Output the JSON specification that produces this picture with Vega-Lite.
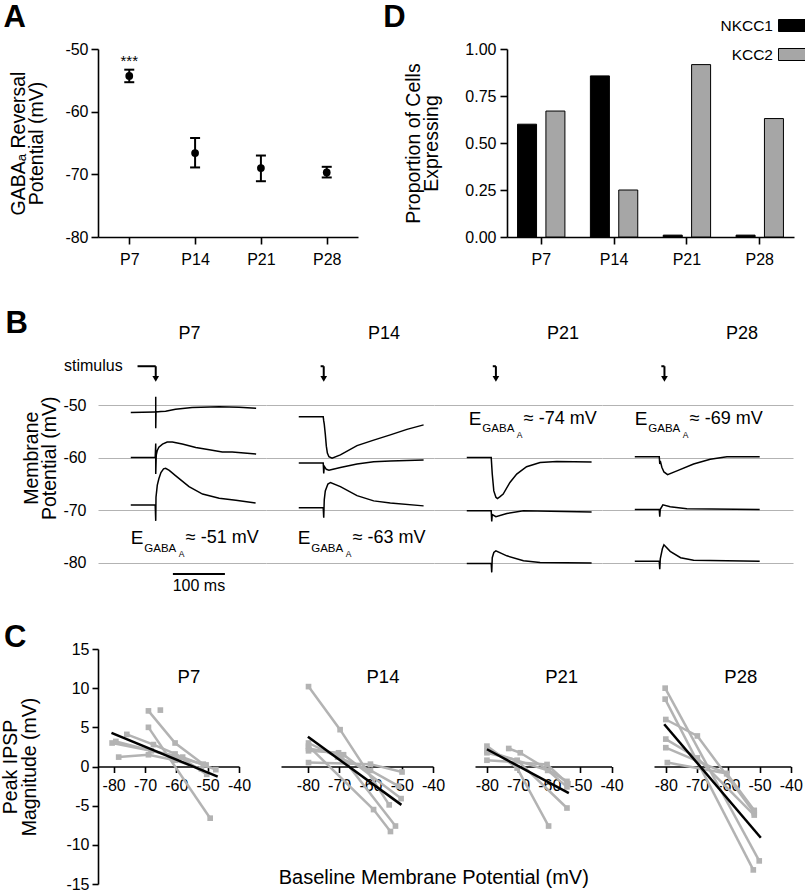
{
  "$schema": "https://vega.github.io/schema/vega-lite/v6.json",
  "background": "white",
  "padding": {"left": 0, "top": 2, "right": 0, "bottom": 0},
  "config": {
    "font": "Liberation Sans",
    "view": {"stroke": null},
    "axis": {"labelFont": "Liberation Sans", "titleFont": "Liberation Sans", "labelFontSize": 16, "titleFontSize": 19.5, "titleLineHeight": 18.5, "titleFontWeight": "normal", "labelColor": "#000", "titleColor": "#000", "domain": true, "ticks": true, "domainColor": "#000", "tickColor": "#000", "domainWidth": 1.6, "tickWidth": 1.6, "grid": false, "labelExpr": "replace(datum.label, '−', '-')"},
    "title": {"font": "Liberation Sans", "fontSize": 31, "fontWeight": "bold", "anchor": "start", "frame": "bounds", "color": "#000"},
    "text": {"font": "Liberation Sans", "color": "#000"}
  },
  "spacing": 27,
  "datasets": {
    "adata": [
      {"age": "P7", "m": -54.3, "lo": -55.3, "hi": -53.3, "sig": "***", "sy": -51.9},
      {"age": "P14", "m": -66.6, "lo": -68.9, "hi": -64.2},
      {"age": "P21", "m": -69.0, "lo": -71.1, "hi": -67.0},
      {"age": "P28", "m": -69.7, "lo": -70.5, "hi": -68.8}
    ],
    "ddata": [
      {"age": "P7", "gene": "NKCC1", "p": 0.60},
      {"age": "P7", "gene": "KCC2", "p": 0.67},
      {"age": "P14", "gene": "NKCC1", "p": 0.857},
      {"age": "P14", "gene": "KCC2", "p": 0.25},
      {"age": "P21", "gene": "NKCC1", "p": 0.01},
      {"age": "P21", "gene": "KCC2", "p": 0.917},
      {"age": "P28", "gene": "NKCC1", "p": 0.01},
      {"age": "P28", "gene": "KCC2", "p": 0.63}
    ],
    "bdat": [
      {"kind": "tr", "age": "P7", "id": "a", "i": 1, "t": -48, "v": -51.4},
      {"kind": "tr", "age": "P7", "id": "a", "i": 2, "t": -2, "v": -51.3},
      {"kind": "tr", "age": "P7", "id": "a", "i": 3, "t": 0, "v": -51.3},
      {"kind": "tr", "age": "P7", "id": "a", "i": 4, "t": 0, "v": -48.4},
      {"kind": "tr", "age": "P7", "id": "a", "i": 5, "t": 0, "v": -54.4},
      {"kind": "tr", "age": "P7", "id": "a", "i": 6, "t": 0.5, "v": -51.3},
      {"kind": "tr", "age": "P7", "id": "a", "i": 7, "t": 10, "v": -51.2},
      {"kind": "tr", "age": "P7", "id": "a", "i": 8, "t": 19, "v": -51.15},
      {"kind": "tr", "age": "P7", "id": "a", "i": 9, "t": 38, "v": -50.8},
      {"kind": "tr", "age": "P7", "id": "a", "i": 10, "t": 70, "v": -50.45},
      {"kind": "tr", "age": "P7", "id": "a", "i": 11, "t": 122, "v": -50.3},
      {"kind": "tr", "age": "P7", "id": "a", "i": 12, "t": 160, "v": -50.4},
      {"kind": "tr", "age": "P7", "id": "a", "i": 13, "t": 193, "v": -50.6},
      {"kind": "tr", "age": "P7", "id": "b", "i": 1, "t": -48, "v": -59.95},
      {"kind": "tr", "age": "P7", "id": "b", "i": 2, "t": -1, "v": -59.95},
      {"kind": "tr", "age": "P7", "id": "b", "i": 3, "t": 0, "v": -57.3},
      {"kind": "tr", "age": "P7", "id": "b", "i": 4, "t": 0, "v": -63.1},
      {"kind": "tr", "age": "P7", "id": "b", "i": 5, "t": 1, "v": -59.5},
      {"kind": "tr", "age": "P7", "id": "b", "i": 6, "t": 3, "v": -58.6},
      {"kind": "tr", "age": "P7", "id": "b", "i": 7, "t": 6, "v": -58.0},
      {"kind": "tr", "age": "P7", "id": "b", "i": 8, "t": 13, "v": -57.4},
      {"kind": "tr", "age": "P7", "id": "b", "i": 9, "t": 22, "v": -57.0},
      {"kind": "tr", "age": "P7", "id": "b", "i": 10, "t": 32, "v": -57.0},
      {"kind": "tr", "age": "P7", "id": "b", "i": 11, "t": 51, "v": -57.4},
      {"kind": "tr", "age": "P7", "id": "b", "i": 12, "t": 77, "v": -58.05},
      {"kind": "tr", "age": "P7", "id": "b", "i": 13, "t": 103, "v": -58.5},
      {"kind": "tr", "age": "P7", "id": "b", "i": 14, "t": 128, "v": -58.9},
      {"kind": "tr", "age": "P7", "id": "b", "i": 15, "t": 147, "v": -58.9},
      {"kind": "tr", "age": "P7", "id": "b", "i": 16, "t": 193, "v": -59.3},
      {"kind": "tr", "age": "P7", "id": "c", "i": 1, "t": -48, "v": -69.0},
      {"kind": "tr", "age": "P7", "id": "c", "i": 2, "t": -1, "v": -69.0},
      {"kind": "tr", "age": "P7", "id": "c", "i": 3, "t": 0, "v": -72.0},
      {"kind": "tr", "age": "P7", "id": "c", "i": 4, "t": 0.5, "v": -67.5},
      {"kind": "tr", "age": "P7", "id": "c", "i": 5, "t": 3, "v": -65.2},
      {"kind": "tr", "age": "P7", "id": "c", "i": 6, "t": 6, "v": -64.0},
      {"kind": "tr", "age": "P7", "id": "c", "i": 7, "t": 10, "v": -62.8},
      {"kind": "tr", "age": "P7", "id": "c", "i": 8, "t": 15, "v": -62.1},
      {"kind": "tr", "age": "P7", "id": "c", "i": 9, "t": 19, "v": -62.0},
      {"kind": "tr", "age": "P7", "id": "c", "i": 10, "t": 26, "v": -62.4},
      {"kind": "tr", "age": "P7", "id": "c", "i": 11, "t": 38, "v": -63.4},
      {"kind": "tr", "age": "P7", "id": "c", "i": 12, "t": 64, "v": -65.5},
      {"kind": "tr", "age": "P7", "id": "c", "i": 13, "t": 90, "v": -66.9},
      {"kind": "tr", "age": "P7", "id": "c", "i": 14, "t": 122, "v": -67.7},
      {"kind": "tr", "age": "P7", "id": "c", "i": 15, "t": 154, "v": -68.1},
      {"kind": "tr", "age": "P7", "id": "c", "i": 16, "t": 192, "v": -68.6},
      {"kind": "tr", "age": "P14", "id": "a", "i": 1, "t": -48, "v": -52.2},
      {"kind": "tr", "age": "P14", "id": "a", "i": 2, "t": -1, "v": -52.2},
      {"kind": "tr", "age": "P14", "id": "a", "i": 3, "t": 0, "v": -53.0},
      {"kind": "tr", "age": "P14", "id": "a", "i": 4, "t": 1, "v": -53.6},
      {"kind": "tr", "age": "P14", "id": "a", "i": 5, "t": 3, "v": -55.5},
      {"kind": "tr", "age": "P14", "id": "a", "i": 6, "t": 5, "v": -57.8},
      {"kind": "tr", "age": "P14", "id": "a", "i": 7, "t": 7, "v": -59.1},
      {"kind": "tr", "age": "P14", "id": "a", "i": 8, "t": 10, "v": -59.8},
      {"kind": "tr", "age": "P14", "id": "a", "i": 9, "t": 16, "v": -60.1},
      {"kind": "tr", "age": "P14", "id": "a", "i": 10, "t": 32, "v": -59.45},
      {"kind": "tr", "age": "P14", "id": "a", "i": 11, "t": 64, "v": -57.7},
      {"kind": "tr", "age": "P14", "id": "a", "i": 12, "t": 96, "v": -56.65},
      {"kind": "tr", "age": "P14", "id": "a", "i": 13, "t": 128, "v": -55.65},
      {"kind": "tr", "age": "P14", "id": "a", "i": 14, "t": 160, "v": -54.6},
      {"kind": "tr", "age": "P14", "id": "a", "i": 15, "t": 192, "v": -53.75},
      {"kind": "tr", "age": "P14", "id": "b", "i": 1, "t": -48, "v": -61.0},
      {"kind": "tr", "age": "P14", "id": "b", "i": 2, "t": -1, "v": -61.0},
      {"kind": "tr", "age": "P14", "id": "b", "i": 3, "t": 0, "v": -63.0},
      {"kind": "tr", "age": "P14", "id": "b", "i": 4, "t": 1, "v": -61.6},
      {"kind": "tr", "age": "P14", "id": "b", "i": 5, "t": 5, "v": -62.2},
      {"kind": "tr", "age": "P14", "id": "b", "i": 6, "t": 10, "v": -62.35},
      {"kind": "tr", "age": "P14", "id": "b", "i": 7, "t": 32, "v": -61.85},
      {"kind": "tr", "age": "P14", "id": "b", "i": 8, "t": 64, "v": -61.2},
      {"kind": "tr", "age": "P14", "id": "b", "i": 9, "t": 96, "v": -60.75},
      {"kind": "tr", "age": "P14", "id": "b", "i": 10, "t": 128, "v": -60.6},
      {"kind": "tr", "age": "P14", "id": "b", "i": 11, "t": 192, "v": -60.45},
      {"kind": "tr", "age": "P14", "id": "c", "i": 1, "t": -48, "v": -69.5},
      {"kind": "tr", "age": "P14", "id": "c", "i": 2, "t": -1, "v": -69.5},
      {"kind": "tr", "age": "P14", "id": "c", "i": 3, "t": 0, "v": -71.4},
      {"kind": "tr", "age": "P14", "id": "c", "i": 4, "t": 1, "v": -68.0},
      {"kind": "tr", "age": "P14", "id": "c", "i": 5, "t": 3, "v": -66.3},
      {"kind": "tr", "age": "P14", "id": "c", "i": 6, "t": 8, "v": -65.0},
      {"kind": "tr", "age": "P14", "id": "c", "i": 7, "t": 13, "v": -64.7},
      {"kind": "tr", "age": "P14", "id": "c", "i": 8, "t": 32, "v": -65.5},
      {"kind": "tr", "age": "P14", "id": "c", "i": 9, "t": 64, "v": -67.2},
      {"kind": "tr", "age": "P14", "id": "c", "i": 10, "t": 96, "v": -68.2},
      {"kind": "tr", "age": "P14", "id": "c", "i": 11, "t": 128, "v": -68.6},
      {"kind": "tr", "age": "P14", "id": "c", "i": 12, "t": 192, "v": -69.15},
      {"kind": "tr", "age": "P21", "id": "a", "i": 1, "t": -48, "v": -59.95},
      {"kind": "tr", "age": "P21", "id": "a", "i": 2, "t": -1, "v": -59.95},
      {"kind": "tr", "age": "P21", "id": "a", "i": 3, "t": 1, "v": -63.1},
      {"kind": "tr", "age": "P21", "id": "a", "i": 4, "t": 4, "v": -66.3},
      {"kind": "tr", "age": "P21", "id": "a", "i": 5, "t": 8, "v": -67.5},
      {"kind": "tr", "age": "P21", "id": "a", "i": 6, "t": 11, "v": -67.75},
      {"kind": "tr", "age": "P21", "id": "a", "i": 7, "t": 16, "v": -67.4},
      {"kind": "tr", "age": "P21", "id": "a", "i": 8, "t": 22, "v": -66.9},
      {"kind": "tr", "age": "P21", "id": "a", "i": 9, "t": 35, "v": -64.7},
      {"kind": "tr", "age": "P21", "id": "a", "i": 10, "t": 48, "v": -63.1},
      {"kind": "tr", "age": "P21", "id": "a", "i": 11, "t": 67, "v": -61.7},
      {"kind": "tr", "age": "P21", "id": "a", "i": 12, "t": 93, "v": -60.9},
      {"kind": "tr", "age": "P21", "id": "a", "i": 13, "t": 125, "v": -60.7},
      {"kind": "tr", "age": "P21", "id": "a", "i": 14, "t": 192, "v": -60.8},
      {"kind": "tr", "age": "P21", "id": "b", "i": 1, "t": -48, "v": -70.1},
      {"kind": "tr", "age": "P21", "id": "b", "i": 2, "t": -1, "v": -70.1},
      {"kind": "tr", "age": "P21", "id": "b", "i": 3, "t": 0, "v": -72.1},
      {"kind": "tr", "age": "P21", "id": "b", "i": 4, "t": 1, "v": -70.8},
      {"kind": "tr", "age": "P21", "id": "b", "i": 5, "t": 8, "v": -71.2},
      {"kind": "tr", "age": "P21", "id": "b", "i": 6, "t": 29, "v": -70.6},
      {"kind": "tr", "age": "P21", "id": "b", "i": 7, "t": 61, "v": -70.1},
      {"kind": "tr", "age": "P21", "id": "b", "i": 8, "t": 192, "v": -70.3},
      {"kind": "tr", "age": "P21", "id": "c", "i": 1, "t": -48, "v": -80.1},
      {"kind": "tr", "age": "P21", "id": "c", "i": 2, "t": -1, "v": -80.1},
      {"kind": "tr", "age": "P21", "id": "c", "i": 3, "t": 0, "v": -81.8},
      {"kind": "tr", "age": "P21", "id": "c", "i": 4, "t": 1, "v": -79.0},
      {"kind": "tr", "age": "P21", "id": "c", "i": 5, "t": 4, "v": -78.0},
      {"kind": "tr", "age": "P21", "id": "c", "i": 6, "t": 8, "v": -77.7},
      {"kind": "tr", "age": "P21", "id": "c", "i": 7, "t": 29, "v": -78.65},
      {"kind": "tr", "age": "P21", "id": "c", "i": 8, "t": 61, "v": -79.6},
      {"kind": "tr", "age": "P21", "id": "c", "i": 9, "t": 93, "v": -79.9},
      {"kind": "tr", "age": "P21", "id": "c", "i": 10, "t": 192, "v": -80.0},
      {"kind": "tr", "age": "P28", "id": "a", "i": 1, "t": -48, "v": -59.8},
      {"kind": "tr", "age": "P28", "id": "a", "i": 2, "t": -1, "v": -59.8},
      {"kind": "tr", "age": "P28", "id": "a", "i": 3, "t": 0, "v": -61.2},
      {"kind": "tr", "age": "P28", "id": "a", "i": 4, "t": 1, "v": -60.6},
      {"kind": "tr", "age": "P28", "id": "a", "i": 5, "t": 4, "v": -61.8},
      {"kind": "tr", "age": "P28", "id": "a", "i": 6, "t": 8, "v": -62.7},
      {"kind": "tr", "age": "P28", "id": "a", "i": 7, "t": 15, "v": -63.2},
      {"kind": "tr", "age": "P28", "id": "a", "i": 8, "t": 33, "v": -62.5},
      {"kind": "tr", "age": "P28", "id": "a", "i": 9, "t": 65, "v": -61.2},
      {"kind": "tr", "age": "P28", "id": "a", "i": 10, "t": 97, "v": -60.3},
      {"kind": "tr", "age": "P28", "id": "a", "i": 11, "t": 129, "v": -59.8},
      {"kind": "tr", "age": "P28", "id": "a", "i": 12, "t": 192, "v": -59.8},
      {"kind": "tr", "age": "P28", "id": "b", "i": 1, "t": -48, "v": -69.85},
      {"kind": "tr", "age": "P28", "id": "b", "i": 2, "t": -1, "v": -69.85},
      {"kind": "tr", "age": "P28", "id": "b", "i": 3, "t": 0, "v": -71.2},
      {"kind": "tr", "age": "P28", "id": "b", "i": 4, "t": 1, "v": -69.8},
      {"kind": "tr", "age": "P28", "id": "b", "i": 5, "t": 6, "v": -68.95},
      {"kind": "tr", "age": "P28", "id": "b", "i": 6, "t": 20, "v": -69.3},
      {"kind": "tr", "age": "P28", "id": "b", "i": 7, "t": 52, "v": -69.7},
      {"kind": "tr", "age": "P28", "id": "b", "i": 8, "t": 192, "v": -69.85},
      {"kind": "tr", "age": "P28", "id": "c", "i": 1, "t": -48, "v": -79.7},
      {"kind": "tr", "age": "P28", "id": "c", "i": 2, "t": -1, "v": -79.7},
      {"kind": "tr", "age": "P28", "id": "c", "i": 3, "t": 0, "v": -81.2},
      {"kind": "tr", "age": "P28", "id": "c", "i": 4, "t": 1, "v": -79.2},
      {"kind": "tr", "age": "P28", "id": "c", "i": 5, "t": 5, "v": -77.3},
      {"kind": "tr", "age": "P28", "id": "c", "i": 6, "t": 8, "v": -76.55},
      {"kind": "tr", "age": "P28", "id": "c", "i": 7, "t": 20, "v": -77.8},
      {"kind": "tr", "age": "P28", "id": "c", "i": 8, "t": 40, "v": -79.0},
      {"kind": "tr", "age": "P28", "id": "c", "i": 9, "t": 65, "v": -79.5},
      {"kind": "tr", "age": "P28", "id": "c", "i": 10, "t": 192, "v": -79.7},
      {"kind": "st", "age": "P7", "t": -35, "t2": 0, "v": -42.6, "v2": -42.6},
      {"kind": "st", "age": "P7", "t": 0, "t2": 0, "v": -42.6, "v2": -44.5},
      {"kind": "st", "age": "P14", "t": -6, "t2": 0, "v": -42.6, "v2": -42.6},
      {"kind": "st", "age": "P14", "t": 0, "t2": 0, "v": -42.6, "v2": -44.5},
      {"kind": "st", "age": "P21", "t": 2, "t2": 8, "v": -42.6, "v2": -42.6},
      {"kind": "st", "age": "P21", "t": 8, "t2": 8, "v": -42.6, "v2": -44.5},
      {"kind": "st", "age": "P28", "t": 3, "t2": 9, "v": -42.6, "v2": -42.6},
      {"kind": "st", "age": "P28", "t": 9, "t2": 9, "v": -42.6, "v2": -44.5},
      {"kind": "hd", "age": "P7", "t": 0, "v": -45.0},
      {"kind": "hd", "age": "P14", "t": 0, "v": -45.0},
      {"kind": "hd", "age": "P21", "t": 8, "v": -45.0},
      {"kind": "hd", "age": "P28", "t": 9, "v": -45.0},
      {"kind": "lb", "age": "P7", "t": 65, "v": -36.4, "txt": "P7"},
      {"kind": "lb", "age": "P14", "t": 116, "v": -36.4, "txt": "P14"},
      {"kind": "lb", "age": "P21", "t": 137, "v": -36.4, "txt": "P21"},
      {"kind": "lb", "age": "P28", "t": 158, "v": -36.4, "txt": "P28"},
      {"kind": "sx", "age": "P7", "t": -63.5, "v": -42.5, "txt": "stimulus"},
      {"kind": "eg", "age": "P7", "t": -48, "v": -75.3, "txt": "≈ -51 mV"},
      {"kind": "eg", "age": "P14", "t": -50, "v": -75.3, "txt": "≈ -63 mV"},
      {"kind": "eg", "age": "P21", "t": -44, "v": -52.6, "txt": "≈ -74 mV"},
      {"kind": "eg", "age": "P28", "t": -48, "v": -52.6, "txt": "≈ -69 mV"},
      {"kind": "sb", "age": "P7", "t": 33, "t2": 133, "v": -82.1, "v2": -82.1},
      {"kind": "sbt", "age": "P7", "t": 83, "v": -84.45, "txt": "100 ms"}
    ],
    "cdat": [
      {"kind": "g", "age": "P7", "id": "g1", "x": -68.9, "y": 7.1},
      {"kind": "g", "age": "P7", "id": "g1", "x": -60.4, "y": 3.0},
      {"kind": "g", "age": "P7", "id": "g1", "x": -51.4, "y": 0.3},
      {"kind": "g", "age": "P7", "id": "g2", "x": -65.1, "y": 7.2},
      {"kind": "g", "age": "P7", "id": "g3", "x": -68.9, "y": 5.0},
      {"kind": "g", "age": "P7", "id": "g3", "x": -49.2, "y": -6.6},
      {"kind": "g", "age": "P7", "id": "g4", "x": -75.8, "y": 4.1},
      {"kind": "g", "age": "P7", "id": "g4", "x": -67.3, "y": 2.8},
      {"kind": "g", "age": "P7", "id": "g4", "x": -60.4, "y": 1.6},
      {"kind": "g", "age": "P7", "id": "g4", "x": -50.3, "y": -1.0},
      {"kind": "g", "age": "P7", "id": "g5", "x": -80.5, "y": 3.0},
      {"kind": "g", "age": "P7", "id": "g5", "x": -68.0, "y": 2.0},
      {"kind": "g", "age": "P7", "id": "g5", "x": -58.0, "y": 1.2},
      {"kind": "g", "age": "P7", "id": "g5", "x": -47.4, "y": -0.4},
      {"kind": "g", "age": "P7", "id": "g6", "x": -78.4, "y": 1.2},
      {"kind": "g", "age": "P7", "id": "g6", "x": -68.9, "y": 1.5},
      {"kind": "g", "age": "P7", "id": "g6", "x": -60.4, "y": 0.8},
      {"kind": "g", "age": "P7", "id": "g6", "x": -52.0, "y": -0.3},
      {"kind": "g", "age": "P7", "id": "g7", "x": -79.3, "y": 3.2},
      {"kind": "g", "age": "P7", "id": "g7", "x": -60.0, "y": 1.2},
      {"kind": "g", "age": "P7", "id": "g7", "x": -50.5, "y": 0.2},
      {"kind": "f", "age": "P7", "x": -80.7, "y": 4.3},
      {"kind": "f", "age": "P7", "x": -46.8, "y": -1.3},
      {"kind": "t", "age": "P7", "x": -56, "y": 11.4, "txt": "P7"},
      {"kind": "g", "age": "P14", "id": "h1", "x": -79.8, "y": 10.2},
      {"kind": "g", "age": "P14", "id": "h1", "x": -69.7, "y": 4.7},
      {"kind": "g", "age": "P14", "id": "h1", "x": -54.0, "y": -4.9},
      {"kind": "g", "age": "P14", "id": "h2", "x": -79.8, "y": 2.6},
      {"kind": "g", "age": "P14", "id": "h2", "x": -59.0, "y": -5.5},
      {"kind": "g", "age": "P14", "id": "h2", "x": -53.6, "y": -8.3},
      {"kind": "g", "age": "P14", "id": "h3", "x": -79.8, "y": 2.0},
      {"kind": "g", "age": "P14", "id": "h3", "x": -70.2, "y": 1.75},
      {"kind": "g", "age": "P14", "id": "h3", "x": -52.0, "y": -7.6},
      {"kind": "g", "age": "P14", "id": "h4", "x": -79.8, "y": 0.5},
      {"kind": "g", "age": "P14", "id": "h4", "x": -60.0, "y": 0.3},
      {"kind": "g", "age": "P14", "id": "h4", "x": -49.9, "y": -0.7},
      {"kind": "g", "age": "P14", "id": "h5", "x": -79.8, "y": 2.3},
      {"kind": "g", "age": "P14", "id": "h5", "x": -68.6, "y": 1.5},
      {"kind": "g", "age": "P14", "id": "h5", "x": -50.2, "y": -4.1},
      {"kind": "g", "age": "P14", "id": "h6", "x": -79.8, "y": 3.0},
      {"kind": "g", "age": "P14", "id": "h6", "x": -70.5, "y": 1.2},
      {"kind": "g", "age": "P14", "id": "h6", "x": -60.0, "y": -0.5},
      {"kind": "g", "age": "P14", "id": "h6", "x": -51.0, "y": -2.5},
      {"kind": "f", "age": "P14", "x": -80.0, "y": 3.8},
      {"kind": "f", "age": "P14", "x": -50.1, "y": -4.9},
      {"kind": "t", "age": "P14", "x": -56, "y": 11.4, "txt": "P14"},
      {"kind": "g", "age": "P21", "id": "k1", "x": -80.0, "y": 2.6},
      {"kind": "g", "age": "P21", "id": "k1", "x": -70.3, "y": -0.2},
      {"kind": "g", "age": "P21", "id": "k1", "x": -60.2, "y": -7.6},
      {"kind": "g", "age": "P21", "id": "k2", "x": -80.0, "y": 1.75},
      {"kind": "g", "age": "P21", "id": "k2", "x": -70.3, "y": 0.8},
      {"kind": "g", "age": "P21", "id": "k2", "x": -54.3, "y": -5.3},
      {"kind": "g", "age": "P21", "id": "k3", "x": -73.0, "y": 2.3},
      {"kind": "g", "age": "P21", "id": "k3", "x": -69.3, "y": 1.75},
      {"kind": "g", "age": "P21", "id": "k3", "x": -54.3, "y": -1.9},
      {"kind": "g", "age": "P21", "id": "k4", "x": -80.0, "y": 0.8},
      {"kind": "g", "age": "P21", "id": "k4", "x": -60.7, "y": 0.26},
      {"kind": "g", "age": "P21", "id": "k4", "x": -54.0, "y": -2.2},
      {"kind": "g", "age": "P21", "id": "k5", "x": -80.0, "y": 2.0},
      {"kind": "g", "age": "P21", "id": "k5", "x": -60.5, "y": -0.5},
      {"kind": "g", "age": "P21", "id": "k5", "x": -54.3, "y": -2.6},
      {"kind": "f", "age": "P21", "x": -80.0, "y": 2.2},
      {"kind": "f", "age": "P21", "x": -53.7, "y": -3.4},
      {"kind": "t", "age": "P21", "x": -56, "y": 11.4, "txt": "P21"},
      {"kind": "g", "age": "P28", "id": "m1", "x": -80.2, "y": 10.0},
      {"kind": "g", "age": "P28", "id": "m1", "x": -50.1, "y": -12.05},
      {"kind": "g", "age": "P28", "id": "m2", "x": -80.2, "y": 8.6},
      {"kind": "g", "age": "P28", "id": "m2", "x": -52.0, "y": -13.2},
      {"kind": "g", "age": "P28", "id": "m3", "x": -80.0, "y": 6.0},
      {"kind": "g", "age": "P28", "id": "m3", "x": -69.9, "y": 3.9},
      {"kind": "g", "age": "P28", "id": "m3", "x": -51.7, "y": -5.9},
      {"kind": "g", "age": "P28", "id": "m4", "x": -80.0, "y": 3.5},
      {"kind": "g", "age": "P28", "id": "m4", "x": -69.9, "y": 1.1},
      {"kind": "g", "age": "P28", "id": "m4", "x": -51.7, "y": -6.2},
      {"kind": "g", "age": "P28", "id": "m5", "x": -80.0, "y": 2.4},
      {"kind": "g", "age": "P28", "id": "m5", "x": -60.5, "y": -0.9},
      {"kind": "g", "age": "P28", "id": "m5", "x": -51.7, "y": -5.6},
      {"kind": "g", "age": "P28", "id": "m6", "x": -79.5, "y": 0.5},
      {"kind": "g", "age": "P28", "id": "m6", "x": -60.5, "y": -0.9},
      {"kind": "f", "age": "P28", "x": -80.5, "y": 5.4},
      {"kind": "f", "age": "P28", "x": -49.6, "y": -9.1},
      {"kind": "t", "age": "P28", "x": -56, "y": 11.4, "txt": "P28"}
    ]
  },
  "vconcat": [
    {
      "hconcat": [
        {
          "width": 260, "height": 188,
          "title": {"text": "A", "dx": -5, "dy": -3},
          "data": {"name": "adata"},
          "encoding": {
            "x": {"field": "age", "type": "nominal", "sort": ["P7", "P14", "P21", "P28"], "scale": {"type": "point", "padding": 0.475}, "axis": {"title": " ", "titleFontSize": 14, "titlePadding": 0, "labelAngle": 0, "tickSize": 7, "labelPadding": 7, "domain": true, "ticks": true}}
          },
          "layer": [
            {"mark": {"type": "rule", "strokeWidth": 2, "color": "black"},
             "encoding": {"y": {"field": "lo", "type": "quantitative", "scale": {"domain": [-80, -50], "nice": false, "zero": false}, "axis": {"values": [-50, -60, -70, -80], "title": ["GABAₐ Reversal", "Potential (mV)"], "tickSize": 7, "labelPadding": 3, "titlePadding": 18, "domain": true, "ticks": true}}, "y2": {"field": "hi"}}},
            {"mark": {"type": "tick", "thickness": 2, "size": 10, "color": "black", "opacity": 1},
             "encoding": {"y": {"field": "lo", "type": "quantitative", "axis": {"values": [-50, -60, -70, -80], "title": ["GABAₐ Reversal", "Potential (mV)"], "tickSize": 7, "labelPadding": 3, "titlePadding": 18, "domain": true, "ticks": true}}}},
            {"mark": {"type": "tick", "thickness": 2, "size": 10, "color": "black", "opacity": 1},
             "encoding": {"y": {"field": "hi", "type": "quantitative", "axis": {"values": [-50, -60, -70, -80], "title": ["GABAₐ Reversal", "Potential (mV)"], "tickSize": 7, "labelPadding": 3, "titlePadding": 18, "domain": true, "ticks": true}}}},
            {"mark": {"type": "point", "filled": true, "size": 60, "color": "black", "opacity": 1},
             "encoding": {"y": {"field": "m", "type": "quantitative", "axis": {"values": [-50, -60, -70, -80], "title": ["GABAₐ Reversal", "Potential (mV)"], "tickSize": 7, "labelPadding": 3, "titlePadding": 18, "domain": true, "ticks": true}}}},
            {"transform": [{"filter": "isValid(datum.sig)"}],
             "mark": {"type": "text", "fontSize": 15, "baseline": "middle"},
             "encoding": {"y": {"field": "sy", "type": "quantitative", "axis": {"values": [-50, -60, -70, -80], "title": ["GABAₐ Reversal", "Potential (mV)"], "tickSize": 7, "labelPadding": 3, "titlePadding": 18, "domain": true, "ticks": true}}, "text": {"field": "sig"}}}
          ]
        },
        {
          "width": 287, "height": 188,
          "title": {"text": "D", "dx": -20, "dy": -3},
          "data": {"name": "ddata"},
          "mark": {"type": "bar", "stroke": "black", "strokeWidth": 1},
          "encoding": {
            "x": {"field": "age", "type": "nominal", "sort": ["P7", "P14", "P21", "P28"], "scale": {"paddingInner": 0.35, "paddingOuter": 0.145}, "axis": {"title": null, "labelAngle": 0, "tickSize": 7, "labelPadding": 7, "domain": true, "ticks": true}},
            "xOffset": {"field": "gene", "sort": ["NKCC1", "KCC2"], "scale": {"paddingInner": 0.33, "paddingOuter": 0}},
            "y": {"field": "p", "type": "quantitative", "scale": {"domain": [0, 1], "nice": false}, "axis": {"values": [0, 0.25, 0.5, 0.75, 1], "format": ".2f", "title": ["Proportion of Cells", "Expressing"], "tickSize": 7, "labelPadding": 4, "titlePadding": 23, "domain": true, "ticks": true}},
            "color": {"field": "gene", "type": "nominal", "sort": ["NKCC1", "KCC2"], "scale": {"domain": ["NKCC1", "KCC2"], "range": ["#000000", "#a6a6a6"]},
              "legend": {"orient": "none", "legendX": 680, "legendY": -39, "title": null, "symbolType": "M-1,-0.4H1V0.4H-1Z", "symbolSize": 900, "symbolStrokeColor": "black", "symbolStrokeWidth": 1, "symbolOpacity": 1, "labelAlign": "right", "labelOffset": -36, "labelFontSize": 15.5, "labelColor": "#000", "rowPadding": 5, "padding": 0}}
          }
        }
      ],
      "spacing": 149,
      "bounds": "flush"
    },
    {
      "hconcat": [
        {
          "width": 168, "height": 273.5,
          "title": {"text": "B", "dx": -16, "dy": 23},
          "data": {"name": "bdat"},
          "transform": [{"filter": "datum.age==='P7'"}],
          "encoding": {
            "x": {"field": "t", "type": "quantitative", "scale": {"domain": [-111, 212], "nice": false, "zero": false}, "axis": null},
            "y": {"field": "v", "type": "quantitative", "scale": {"domain": [-86, -34], "nice": false, "zero": false}, "axis": {"values": [-50, -60, -70, -80], "grid": true, "gridColor": "#b3b3b3", "gridWidth": 1, "domain": false, "ticks": false, "labelPadding": 12, "title": ["Membrane", "Potential (mV)"], "titlePadding": 3}}
          },
          "layer": [
            {"transform": [{"filter": "datum.kind==='tr'"}], "mark": {"type": "line", "color": "black", "strokeWidth": 1.5}, "encoding": {"detail": {"field": "id"}, "order": {"field": "i"}}},
            {"transform": [{"filter": "datum.kind==='st' || datum.kind==='sb'"}], "mark": {"type": "rule", "color": "black", "strokeWidth": 2}, "encoding": {"x2": {"field": "t2"}, "y2": {"field": "v2"}}},
            {"transform": [{"filter": "datum.kind==='hd'"}], "mark": {"type": "point", "shape": "triangle-down", "filled": true, "color": "black", "size": 45, "opacity": 1}},
            {"transform": [{"filter": "datum.kind==='lb'"}], "mark": {"type": "text", "fontSize": 18, "align": "center", "baseline": "middle"}, "encoding": {"text": {"field": "txt"}}},
            {"transform": [{"filter": "datum.kind==='sx'"}], "mark": {"type": "text", "fontSize": 16, "align": "right", "baseline": "middle"}, "encoding": {"text": {"field": "txt"}}},
            {"transform": [{"filter": "datum.kind==='sbt'"}], "mark": {"type": "text", "fontSize": 16, "align": "center", "baseline": "middle"}, "encoding": {"text": {"field": "txt"}}},
            {"transform": [{"filter": "datum.kind==='eg'"}], "mark": {"type": "text", "fontSize": 19, "align": "left", "baseline": "middle", "text": "E"}},
            {"transform": [{"filter": "datum.kind==='eg'"}], "mark": {"type": "text", "fontSize": 11.5, "align": "left", "baseline": "middle", "dx": 13.5, "dy": 10.5, "text": "GABA"}},
            {"transform": [{"filter": "datum.kind==='eg'"}], "mark": {"type": "text", "fontSize": 8.5, "align": "left", "baseline": "middle", "dx": 48, "dy": 16, "text": "A"}},
            {"transform": [{"filter": "datum.kind==='eg'"}], "mark": {"type": "text", "fontSize": 18, "align": "left", "baseline": "middle", "dx": 55}, "encoding": {"text": {"field": "txt"}}}
          ]
        },
        {
          "width": 168, "height": 273.5,
          "data": {"name": "bdat"},
          "transform": [{"filter": "datum.age==='P14'"}],
          "encoding": {
            "x": {"field": "t", "type": "quantitative", "scale": {"domain": [-111, 212], "nice": false, "zero": false}, "axis": null},
            "y": {"field": "v", "type": "quantitative", "scale": {"domain": [-86, -34], "nice": false, "zero": false}, "axis": {"values": [-50, -60, -70, -80], "grid": true, "gridColor": "#b3b3b3", "gridWidth": 1, "domain": false, "ticks": false, "labels": false, "title": null}}
          },
          "layer": [
            {"transform": [{"filter": "datum.kind==='tr'"}], "mark": {"type": "line", "color": "black", "strokeWidth": 1.5}, "encoding": {"detail": {"field": "id"}, "order": {"field": "i"}}},
            {"transform": [{"filter": "datum.kind==='st'"}], "mark": {"type": "rule", "color": "black", "strokeWidth": 2}, "encoding": {"x2": {"field": "t2"}, "y2": {"field": "v2"}}},
            {"transform": [{"filter": "datum.kind==='hd'"}], "mark": {"type": "point", "shape": "triangle-down", "filled": true, "color": "black", "size": 45, "opacity": 1}},
            {"transform": [{"filter": "datum.kind==='lb'"}], "mark": {"type": "text", "fontSize": 18, "align": "center", "baseline": "middle"}, "encoding": {"text": {"field": "txt"}}},
            {"transform": [{"filter": "datum.kind==='eg'"}], "mark": {"type": "text", "fontSize": 19, "align": "left", "baseline": "middle", "text": "E"}},
            {"transform": [{"filter": "datum.kind==='eg'"}], "mark": {"type": "text", "fontSize": 11.5, "align": "left", "baseline": "middle", "dx": 13.5, "dy": 10.5, "text": "GABA"}},
            {"transform": [{"filter": "datum.kind==='eg'"}], "mark": {"type": "text", "fontSize": 8.5, "align": "left", "baseline": "middle", "dx": 48, "dy": 16, "text": "A"}},
            {"transform": [{"filter": "datum.kind==='eg'"}], "mark": {"type": "text", "fontSize": 18, "align": "left", "baseline": "middle", "dx": 55}, "encoding": {"text": {"field": "txt"}}}
          ]
        },
        {
          "width": 168, "height": 273.5,
          "data": {"name": "bdat"},
          "transform": [{"filter": "datum.age==='P21'"}],
          "encoding": {
            "x": {"field": "t", "type": "quantitative", "scale": {"domain": [-111, 212], "nice": false, "zero": false}, "axis": null},
            "y": {"field": "v", "type": "quantitative", "scale": {"domain": [-86, -34], "nice": false, "zero": false}, "axis": {"values": [-50, -60, -70, -80], "grid": true, "gridColor": "#b3b3b3", "gridWidth": 1, "domain": false, "ticks": false, "labels": false, "title": null}}
          },
          "layer": [
            {"transform": [{"filter": "datum.kind==='tr'"}], "mark": {"type": "line", "color": "black", "strokeWidth": 1.5}, "encoding": {"detail": {"field": "id"}, "order": {"field": "i"}}},
            {"transform": [{"filter": "datum.kind==='st'"}], "mark": {"type": "rule", "color": "black", "strokeWidth": 2}, "encoding": {"x2": {"field": "t2"}, "y2": {"field": "v2"}}},
            {"transform": [{"filter": "datum.kind==='hd'"}], "mark": {"type": "point", "shape": "triangle-down", "filled": true, "color": "black", "size": 45, "opacity": 1}},
            {"transform": [{"filter": "datum.kind==='lb'"}], "mark": {"type": "text", "fontSize": 18, "align": "center", "baseline": "middle"}, "encoding": {"text": {"field": "txt"}}},
            {"transform": [{"filter": "datum.kind==='eg'"}], "mark": {"type": "text", "fontSize": 19, "align": "left", "baseline": "middle", "text": "E"}},
            {"transform": [{"filter": "datum.kind==='eg'"}], "mark": {"type": "text", "fontSize": 11.5, "align": "left", "baseline": "middle", "dx": 13.5, "dy": 10.5, "text": "GABA"}},
            {"transform": [{"filter": "datum.kind==='eg'"}], "mark": {"type": "text", "fontSize": 8.5, "align": "left", "baseline": "middle", "dx": 48, "dy": 16, "text": "A"}},
            {"transform": [{"filter": "datum.kind==='eg'"}], "mark": {"type": "text", "fontSize": 18, "align": "left", "baseline": "middle", "dx": 55}, "encoding": {"text": {"field": "txt"}}}
          ]
        },
        {
          "width": 191, "height": 273.5,
          "data": {"name": "bdat"},
          "transform": [{"filter": "datum.age==='P28'"}],
          "encoding": {
            "x": {"field": "t", "type": "quantitative", "scale": {"domain": [-111, 256], "nice": false, "zero": false}, "axis": null},
            "y": {"field": "v", "type": "quantitative", "scale": {"domain": [-86, -34], "nice": false, "zero": false}, "axis": {"values": [-50, -60, -70, -80], "grid": true, "gridColor": "#b3b3b3", "gridWidth": 1, "domain": false, "ticks": false, "labels": false, "title": null}}
          },
          "layer": [
            {"transform": [{"filter": "datum.kind==='tr'"}], "mark": {"type": "line", "color": "black", "strokeWidth": 1.5}, "encoding": {"detail": {"field": "id"}, "order": {"field": "i"}}},
            {"transform": [{"filter": "datum.kind==='st'"}], "mark": {"type": "rule", "color": "black", "strokeWidth": 2}, "encoding": {"x2": {"field": "t2"}, "y2": {"field": "v2"}}},
            {"transform": [{"filter": "datum.kind==='hd'"}], "mark": {"type": "point", "shape": "triangle-down", "filled": true, "color": "black", "size": 45, "opacity": 1}},
            {"transform": [{"filter": "datum.kind==='lb'"}], "mark": {"type": "text", "fontSize": 18, "align": "center", "baseline": "middle"}, "encoding": {"text": {"field": "txt"}}},
            {"transform": [{"filter": "datum.kind==='eg'"}], "mark": {"type": "text", "fontSize": 19, "align": "left", "baseline": "middle", "text": "E"}},
            {"transform": [{"filter": "datum.kind==='eg'"}], "mark": {"type": "text", "fontSize": 11.5, "align": "left", "baseline": "middle", "dx": 13.5, "dy": 10.5, "text": "GABA"}},
            {"transform": [{"filter": "datum.kind==='eg'"}], "mark": {"type": "text", "fontSize": 8.5, "align": "left", "baseline": "middle", "dx": 48, "dy": 16, "text": "A"}},
            {"transform": [{"filter": "datum.kind==='eg'"}], "mark": {"type": "text", "fontSize": 18, "align": "left", "baseline": "middle", "dx": 55}, "encoding": {"text": {"field": "txt"}}}
          ]
        }
      ],
      "spacing": 0,
      "bounds": "flush"
    },
    {
      "hconcat": [
        {
          "width": 141, "height": 235,
          "title": {"text": "C", "dx": 3, "dy": 17},
          "data": {"name": "cdat"},
          "transform": [{"filter": "datum.age==='P7'"}],
          "encoding": {
            "x": {"field": "x", "type": "quantitative", "scale": {"domain": [-85, -40], "nice": false, "zero": false}, "axis": {"offset": -117.5, "values": [-80, -70, -60, -50, -40], "title": null, "tickSize": 6, "labelPadding": 5, "labelFlush": false, "labelOverlap": false, "domain": true, "ticks": true}},
            "y": {"field": "y", "type": "quantitative", "scale": {"domain": [-15, 15], "nice": false, "zero": false}, "axis": {"values": [15, 10, 5, 0, -5, -10, -15], "title": ["Peak IPSP", "Magnitude (mV)"], "tickSize": 6, "labelPadding": 3, "titlePadding": 26.5, "domain": true, "ticks": true}}
          },
          "layer": [
            {"transform": [{"filter": "datum.kind==='g'"}], "mark": {"type": "line", "color": "#b3b3b3", "strokeWidth": 2.5, "point": {"shape": "square", "size": 32, "filled": true, "color": "#b3b3b3", "opacity": 1}}, "encoding": {"detail": {"field": "id"}}},
            {"transform": [{"filter": "datum.kind==='f'"}], "mark": {"type": "line", "color": "black", "strokeWidth": 2.5}},
            {"transform": [{"filter": "datum.kind==='t'"}], "mark": {"type": "text", "fontSize": 18.5, "baseline": "middle"}, "encoding": {"text": {"field": "txt"}}}
          ]
        },
        {
          "width": 152, "height": 235,
          "data": {"name": "cdat"},
          "transform": [{"filter": "datum.age==='P14'"}],
          "encoding": {
            "x": {"field": "x", "type": "quantitative", "scale": {"domain": [-88.6, -40], "nice": false, "zero": false}, "axis": {"offset": -117.5, "values": [-80, -70, -60, -50, -40], "title": "Baseline Membrane Potential (mV)", "titleX": 152.3, "titleY": 110.5, "titleBaseline": "middle", "titleFontSize": 20, "tickSize": 6, "labelPadding": 5, "labelFlush": false, "labelOverlap": false, "domain": true, "ticks": true}},
            "y": {"field": "y", "type": "quantitative", "scale": {"domain": [-15, 15], "nice": false, "zero": false}, "axis": null}
          },
          "layer": [
            {"transform": [{"filter": "datum.kind==='g'"}], "mark": {"type": "line", "color": "#b3b3b3", "strokeWidth": 2.5, "point": {"shape": "square", "size": 32, "filled": true, "color": "#b3b3b3", "opacity": 1}}, "encoding": {"detail": {"field": "id"}}},
            {"transform": [{"filter": "datum.kind==='f'"}], "mark": {"type": "line", "color": "black", "strokeWidth": 2.5}},
            {"transform": [{"filter": "datum.kind==='t'"}], "mark": {"type": "text", "fontSize": 18.5, "baseline": "middle"}, "encoding": {"text": {"field": "txt"}}}
          ]
        },
        {
          "width": 136.5, "height": 235,
          "data": {"name": "cdat"},
          "transform": [{"filter": "datum.age==='P21'"}],
          "encoding": {
            "x": {"field": "x", "type": "quantitative", "scale": {"domain": [-83.83, -40], "nice": false, "zero": false}, "axis": {"offset": -117.5, "values": [-80, -70, -60, -50, -40], "title": null, "tickSize": 6, "labelPadding": 5, "labelFlush": false, "labelOverlap": false, "domain": true, "ticks": true}},
            "y": {"field": "y", "type": "quantitative", "scale": {"domain": [-15, 15], "nice": false, "zero": false}, "axis": null}
          },
          "layer": [
            {"transform": [{"filter": "datum.kind==='g'"}], "mark": {"type": "line", "color": "#b3b3b3", "strokeWidth": 2.5, "point": {"shape": "square", "size": 32, "filled": true, "color": "#b3b3b3", "opacity": 1}}, "encoding": {"detail": {"field": "id"}}},
            {"transform": [{"filter": "datum.kind==='f'"}], "mark": {"type": "line", "color": "black", "strokeWidth": 2.5}},
            {"transform": [{"filter": "datum.kind==='t'"}], "mark": {"type": "text", "fontSize": 18.5, "baseline": "middle"}, "encoding": {"text": {"field": "txt"}}}
          ]
        },
        {
          "width": 136.8, "height": 235,
          "data": {"name": "cdat"},
          "transform": [{"filter": "datum.age==='P28'"}],
          "encoding": {
            "x": {"field": "x", "type": "quantitative", "scale": {"domain": [-83.77, -40], "nice": false, "zero": false}, "axis": {"offset": -117.5, "values": [-80, -70, -60, -50, -40], "title": null, "tickSize": 6, "labelPadding": 5, "labelFlush": false, "labelOverlap": false, "domain": true, "ticks": true}},
            "y": {"field": "y", "type": "quantitative", "scale": {"domain": [-15, 15], "nice": false, "zero": false}, "axis": null}
          },
          "layer": [
            {"transform": [{"filter": "datum.kind==='g'"}], "mark": {"type": "line", "color": "#b3b3b3", "strokeWidth": 2.5, "point": {"shape": "square", "size": 32, "filled": true, "color": "#b3b3b3", "opacity": 1}}, "encoding": {"detail": {"field": "id"}}},
            {"transform": [{"filter": "datum.kind==='f'"}], "mark": {"type": "line", "color": "black", "strokeWidth": 2.5}},
            {"transform": [{"filter": "datum.kind==='t'"}], "mark": {"type": "text", "fontSize": 18.5, "baseline": "middle"}, "encoding": {"text": {"field": "txt"}}}
          ]
        }
      ],
      "spacing": 42,
      "bounds": "flush"
    }
  ]
}
